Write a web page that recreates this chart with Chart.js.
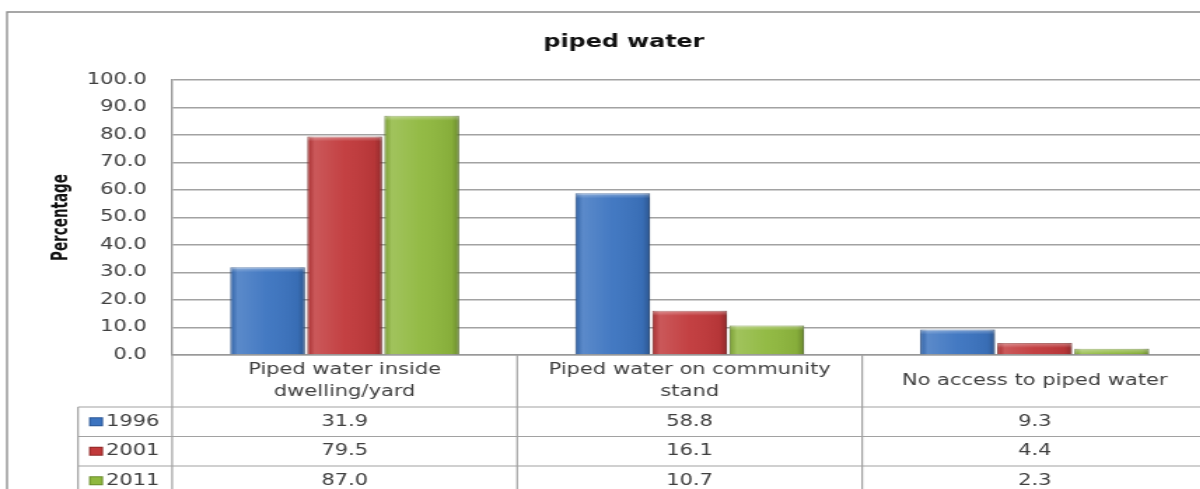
<!DOCTYPE html>
<html>
<head>
<meta charset="utf-8">
<title>piped water</title>
<script src="https://cdn.jsdelivr.net/npm/chart.js@4.4.1/dist/chart.umd.min.js"></script>
<style>
  html, body { margin: 0; padding: 0; background: #fff; overflow: hidden; }
  #chartPipedWater { display: block; }
</style>
</head>
<body>
<!-- the source picture is stretched sideways, so the canvas is too (inline style so Chart.js keeps it) -->
<canvas id="chartPipedWater" width="864" height="489" style="width:1210px;height:489px"></canvas>
<script>
  "use strict";

  const categories = [
    ["Piped water inside", "dwelling/yard"],
    ["Piped water on community", "stand"],
    ["No access to piped water"]
  ];
  const years = ["1996", "2001", "2011"];
  const values1996 = [31.9, 58.8, 9.3];
  const values2001 = [79.5, 16.1, 4.4];
  const values2011 = [87.0, 10.7, 2.3];

  const FILL = ["#3c74c0", "#c1393b", "#8fb83e"];
  const EDGE = ["#2b5796", "#8f2927", "#6a8c2b"];
  const GRID = "#a2a2a2";
  const TEXT = "#404040";
  const FONT = "DejaVu Sans";

  // white page + the grey frame at left/top
  const frame = {
    id: "frame",
    beforeDraw(chart) {
      const ctx = chart.ctx;
      ctx.save();
      ctx.fillStyle = "#fff";
      ctx.fillRect(0, 0, chart.width, chart.height);
      ctx.strokeStyle = "#8a8a8a";
      ctx.lineWidth = 1.3;
      ctx.beginPath();
      ctx.moveTo(5, chart.height);
      ctx.lineTo(5, 12);
      ctx.lineTo(chart.width, 12);
      ctx.stroke();
      ctx.restore();
    }
  };

  // soft bevel on each bar, like the office 3d look
  const bevel = {
    id: "bevel",
    afterDatasetsDraw(chart) {
      const ctx = chart.ctx;
      chart.data.datasets.forEach((ds, di) => {
        chart.getDatasetMeta(di).data.forEach(bar => {
          const w = bar.width;
          const left = bar.x - w / 2;
          const top = Math.min(bar.y, bar.base);
          const h = Math.abs(bar.base - bar.y);
          if (h <= 0) return;
          ctx.save();
          const g = ctx.createLinearGradient(left, 0, left + w, 0);
          g.addColorStop(0, "rgba(0,0,0,0.12)");
          g.addColorStop(0.1, "rgba(255,255,255,0.16)");
          g.addColorStop(0.5, "rgba(255,255,255,0.04)");
          g.addColorStop(0.9, "rgba(0,0,0,0.06)");
          g.addColorStop(1, "rgba(0,0,0,0.25)");
          ctx.fillStyle = g;
          ctx.fillRect(left, top, w, h);
          const th = Math.min(5, h);
          const tg = ctx.createLinearGradient(0, top, 0, top + th);
          tg.addColorStop(0, "rgba(255,255,255,0.35)");
          tg.addColorStop(1, "rgba(255,255,255,0)");
          ctx.fillStyle = tg;
          ctx.fillRect(left, top, w, th);
          ctx.restore();
        });
      });
    }
  };

  // data table under the axis (excel style)
  const dataTable = {
    id: "dataTable",
    afterDraw(chart) {
      const { ctx, chartArea: a } = chart;
      const x = chart.scales.x;
      const band = (a.right - a.left) / categories.length;
      const headBottom = a.bottom + 52;
      const rowH = 29.5;
      const legendLeft = 55.7;

      ctx.save();
      ctx.strokeStyle = GRID;
      ctx.lineWidth = 1.2;
      ctx.beginPath();
      for (let r = 0; r < years.length; r++) {
        const y = headBottom + r * rowH;
        ctx.moveTo(legendLeft, y);
        ctx.lineTo(chart.width, y);
      }
      ctx.moveTo(legendLeft, headBottom);
      ctx.lineTo(legendLeft, chart.height);
      for (let i = 0; i <= categories.length; i++) {
        const bx = a.left + i * band;
        ctx.moveTo(bx, a.bottom);
        ctx.lineTo(bx, chart.height);
      }
      ctx.stroke();

      ctx.fillStyle = TEXT;
      ctx.font = "15px '" + FONT + "'";
      ctx.textAlign = "center";
      ctx.textBaseline = "middle";
      categories.forEach((lines, i) => {
        const cx = x.getPixelForValue(i);
        const mid = (a.bottom + headBottom) / 2;
        lines.forEach((t, k) => {
          ctx.fillText(t, cx, mid + (k - (lines.length - 1) / 2) * 22);
        });
      });

      chart.data.datasets.forEach((ds, di) => {
        const cy = headBottom + di * rowH + rowH / 2;
        ctx.fillStyle = EDGE[di];
        ctx.fillRect(63.6, cy - 4.5, 10, 9);
        ctx.fillStyle = FILL[di];
        ctx.fillRect(64.6, cy - 3.5, 8, 7);
        ctx.fillStyle = TEXT;
        ctx.textAlign = "left";
        ctx.fillText(ds.label, 75.7, cy);
        ctx.textAlign = "center";
        ds.data.forEach((v, i) => {
          ctx.fillText(v.toFixed(1), x.getPixelForValue(i), cy);
        });
      });
      ctx.restore();
    }
  };

  const series = [values1996, values2001, values2011];

  new Chart(document.getElementById("chartPipedWater"), {
    type: "bar",
    data: {
      labels: categories,
      datasets: years.map((yr, i) => ({
        label: yr,
        data: series[i],
        backgroundColor: FILL[i],
        borderColor: EDGE[i],
        borderWidth: 1,
        categoryPercentage: 0.67,
        barPercentage: 0.97
      }))
    },
    options: {
      responsive: false,
      devicePixelRatio: 1,
      animation: false,
      events: [],
      layout: { padding: { left: 29, right: 2, top: 0, bottom: 0 } },
      plugins: {
        legend: { display: false },
        tooltip: { enabled: false },
        title: {
          display: true,
          text: "piped water",
          color: "#111",
          font: { family: FONT, size: 17, weight: "bold" },
          padding: { top: 32.8, bottom: 26.8 }
        }
      },
      scales: {
        x: {
          grid: { display: false, drawTicks: false },
          border: { color: "#999", width: 1.4 },
          ticks: { display: false },
          afterFit: s => { s.height = 134; }
        },
        y: {
          min: 0,
          max: 100,
          ticks: {
            stepSize: 10,
            padding: 18,
            color: TEXT,
            font: { family: FONT, size: 15 },
            callback: v => Number(v).toFixed(1)
          },
          grid: { color: GRID, lineWidth: 1.4, drawTicks: false },
          border: { color: "#999", width: 1.4 },
          title: {
            display: true,
            text: "Percentage",
            color: "#111",
            font: { family: "'Liberation Sans Narrow', 'DejaVu Sans Condensed'", size: 15, weight: "bold" },
            padding: { top: 6, bottom: 0 }
          },
          afterFit: s => { s.width = 93.9; }
        }
      }
    },
    plugins: [frame, bevel, dataTable]
  });
</script>
</body>
</html>
